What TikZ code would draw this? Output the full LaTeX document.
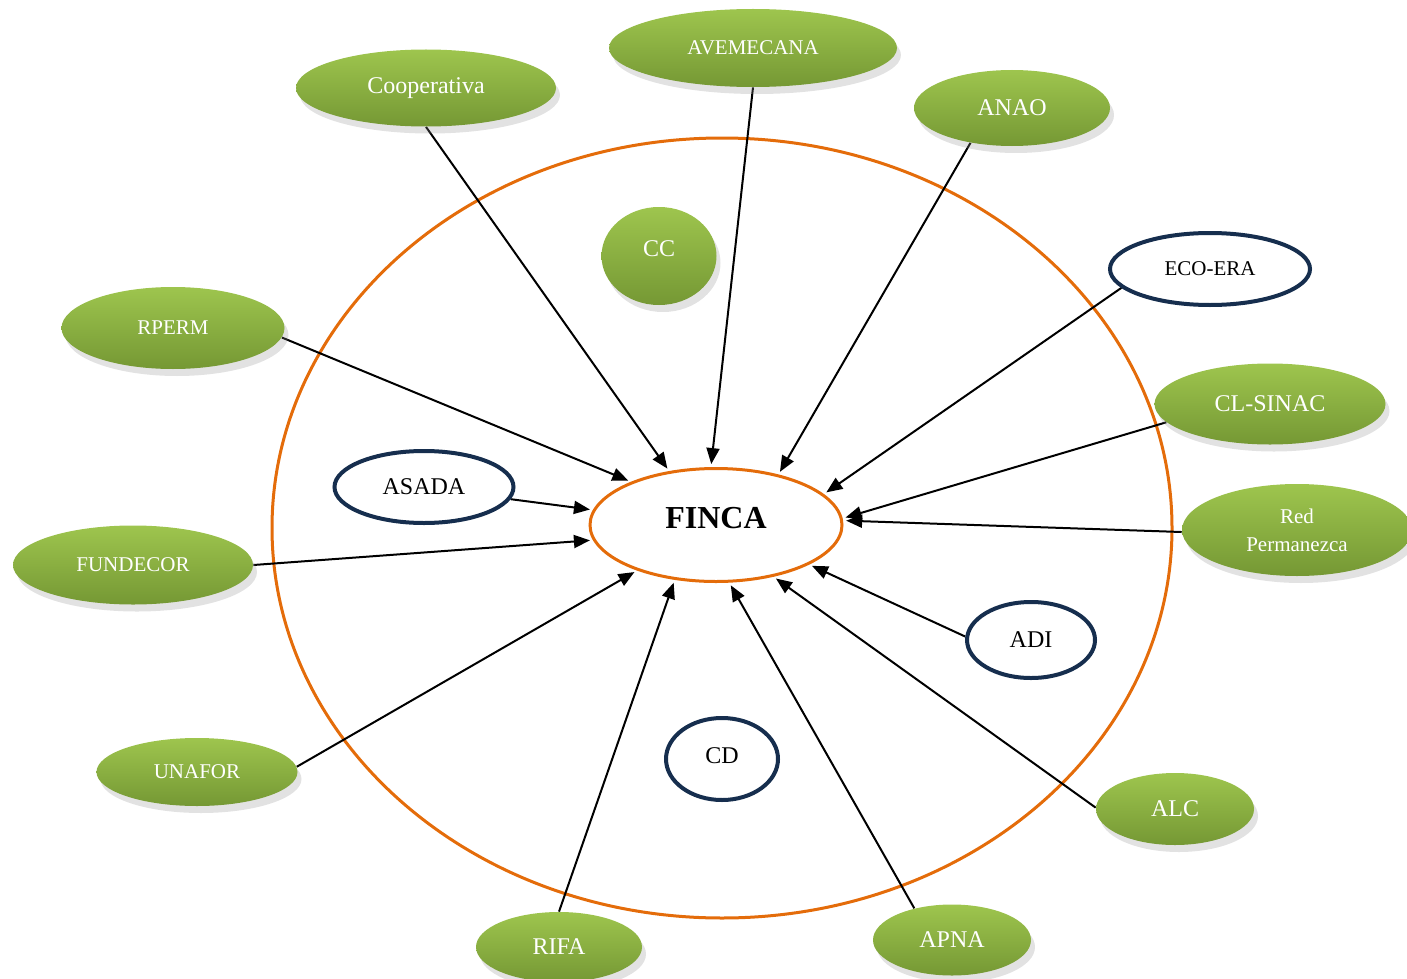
\documentclass[tikz,border=0pt]{standalone}
\usepackage{fontspec}
\setmainfont{Liberation Serif}
\usepackage{xcolor}
\usetikzlibrary{shapes.geometric,shadows,arrows.meta,backgrounds}
\definecolor{leafgreen}{RGB}{158,197,78}
\definecolor{mossgreen}{RGB}{117,152,52}
\definecolor{rimorange}{RGB}{228,108,10}
\definecolor{inknavy}{RGB}{22,46,78}

\tikzset{
  greennode/.style={ellipse, inner sep=0pt, top color=leafgreen, bottom color=mossgreen,
    text=white, drop shadow={shadow xshift=2pt, shadow yshift=-3.5pt, opacity=0.25, fill=black!45}},
  ringnode/.style={ellipse, inner sep=0pt, draw=inknavy, line width=2pt, fill=white, text=black},
  bigtxt/.style={font=\fontsize{12}{14}\selectfont},
  smalltxt/.style={font=\fontsize{10.5}{14}\selectfont},
  link/.style={-{Triangle[length=8pt,width=6.5pt]}, line width=1pt, shorten >=1.5pt}
}

\begin{document}
\begin{tikzpicture}[x=0.5pt,y=-0.5pt]
      \useasboundingbox (0,0) rectangle (1407,979);
      % Centre
      \node[ellipse, draw=rimorange, line width=1.5pt, fill=white, inner sep=0pt,
        minimum width=126pt, minimum height=56.5pt,
        font=\fontsize{16}{18}\selectfont\bfseries] (finca) at (716,525) {\raisebox{7pt}{FINCA}};
      % Green actors
      \node[greennode, bigtxt, minimum width=130pt, minimum height=38.5pt] (coop) at (426,88) {Cooperativa};
      \node[greennode, smalltxt, minimum width=144pt, minimum height=39pt] (avem) at (753,48) {AVEMECANA};
      \node[greennode, bigtxt, minimum width=98pt, minimum height=38pt] (anao) at (1012,108) {ANAO};
      \node[greennode, bigtxt, minimum width=57.5pt, minimum height=49pt] (cc) at (659,256) {\raisebox{7pt}{CC}};
      \node[greennode, smalltxt, minimum width=111.5pt, minimum height=41pt] (rperm) at (173,328) {RPERM};
      \node[greennode, bigtxt, minimum width=115.5pt, minimum height=40.5pt] (clsinac) at (1270,404) {CL-SINAC};
      \node[greennode, smalltxt, align=center, minimum width=115pt, minimum height=46pt] (redp) at (1297,530) {Red\\Permanezca};
      \node[greennode, smalltxt, minimum width=120pt, minimum height=39.5pt] (fundecor) at (133,565) {FUNDECOR};
      \node[greennode, smalltxt, minimum width=100.5pt, minimum height=34pt] (unafor) at (197,772) {UNAFOR};
      \node[greennode, bigtxt, minimum width=79pt, minimum height=36pt] (alc) at (1175,809) {ALC};
      \node[greennode, bigtxt, minimum width=83pt, minimum height=35pt] (rifa) at (559,947) {RIFA};
      \node[greennode, bigtxt, minimum width=79pt, minimum height=35.5pt] (apna) at (952,940) {APNA};
      % Outlined actors
      \node[ringnode, smalltxt, minimum width=100pt, minimum height=36pt] (ecoera) at (1210,269) {ECO-ERA};
      \node[ringnode, bigtxt, minimum width=89.5pt, minimum height=36pt] (asada) at (424,487) {ASADA};
      \node[ringnode, bigtxt, minimum width=64pt, minimum height=38pt] (adi) at (1031,640) {ADI};
      \node[ringnode, bigtxt, minimum width=56pt, minimum height=41pt] (cd) at (722,759) {\raisebox{3pt}{CD}};
      % Ring and links behind the actors
      \begin{scope}[on background layer]
        \draw[rimorange, line width=1.5pt] (722,528) ellipse [x radius=225pt, y radius=195pt];
        \draw[link] (coop.south) -- (finca.131);
        \draw[link] (avem.south) -- (finca.95);
        \draw[link] (anao.220) -- (finca.39);
        \draw[link] (ecoera.192) -- (finca.16);
        \draw[link] (rperm.355) -- (finca.153);
        \draw[link] (clsinac.190) -- (finca.3);
        \draw[link] (redp.181) -- (finca.2);
        \draw[link] (asada.352) -- (finca.173);
        \draw[link] (fundecor.east) -- (finca.187);
        \draw[link] (adi.177) -- (finca.337);
        \draw[link] (unafor.3) -- (finca.210);
        \draw[link] (alc.179) -- (finca.318);
        \draw[link] (rifa.north) -- (finca.233);
        \draw[link] (apna.140) -- (finca.283);
      \end{scope}
    \end{tikzpicture}
\end{document}
